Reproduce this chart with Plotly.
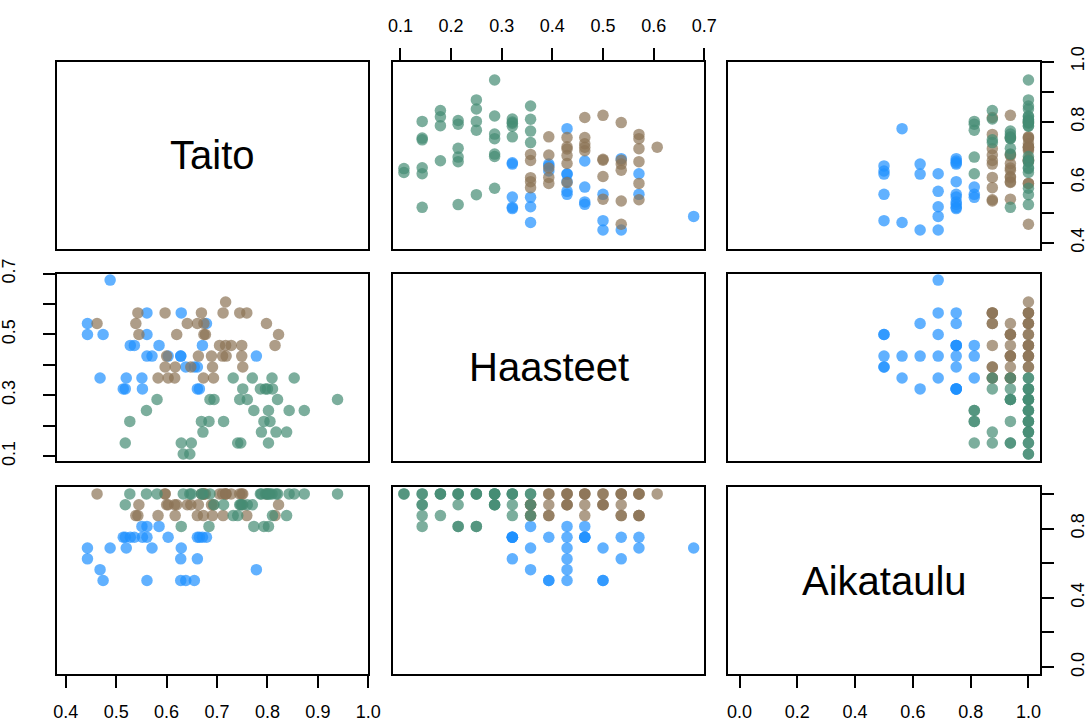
import plotly.graph_objects as go

# ---------------- data ----------------
var_names = ["Taito", "Haasteet", "Aikataulu"]

blue_taito = [0.488, 0.561, 0.629, 0.443, 0.679, 0.443, 0.474, 0.561, 0.528, 0.536,
              0.585, 0.671, 0.778, 0.628, 0.603, 0.628, 0.571, 0.561, 0.638, 0.655,
              0.661, 0.468, 0.520, 0.551, 0.514, 0.518, 0.552, 0.661, 0.665]
blue_haasteet = [0.679, 0.571, 0.571, 0.536, 0.536, 0.500, 0.500, 0.500, 0.464, 0.464,
                 0.464, 0.464, 0.429, 0.429, 0.429, 0.429, 0.429, 0.429, 0.393, 0.393,
                 0.393, 0.357, 0.357, 0.357, 0.321, 0.321, 0.321, 0.321, 0.321]
blue_aikataulu = [0.6875, 0.75, 0.6875, 0.625, 0.75, 0.6875, 0.5, 0.5, 0.75, 0.75,
                  0.8125, 0.75, 0.5625, 0.625, 0.75, 0.5, 0.6875, 0.8125, 0.5, 0.5,
                  0.75, 0.5625, 0.6875, 0.8125, 0.75, 0.75, 0.75, 0.625, 0.75]

brown_taito = [0.717, 0.543, 0.597, 0.669, 0.712, 0.745, 0.759, 0.462, 0.539, 0.641,
               0.661, 0.674, 0.798, 0.545, 0.620, 0.674, 0.677, 0.822, 0.705, 0.717,
               0.728, 0.749, 0.815, 0.600, 0.663, 0.689, 0.711, 0.718, 0.749, 0.597,
               0.617, 0.648, 0.691, 0.751, 0.583, 0.603, 0.616, 0.673, 0.693]
brown_haasteet = [0.607, 0.571, 0.571, 0.571, 0.571, 0.571, 0.571, 0.536, 0.536, 0.536,
                  0.536, 0.536, 0.536, 0.500, 0.500, 0.500, 0.500, 0.500, 0.464, 0.464,
                  0.464, 0.464, 0.464, 0.429, 0.429, 0.429, 0.429, 0.429, 0.429, 0.393,
                  0.393, 0.393, 0.393, 0.393, 0.357, 0.357, 0.357, 0.357, 0.357]
brown_aikataulu = [1.0, 0.875, 1.0, 1.0, 0.875, 1.0, 0.875, 1.0, 0.875, 0.9375,
                   0.875, 1.0, 1.0, 0.9375, 0.9375, 1.0, 1.0, 0.9375, 1.0, 1.0,
                   1.0, 0.9375, 0.875, 0.9375, 0.9375, 0.9375, 1.0, 1.0, 1.0, 1.0,
                   0.875, 0.9375, 0.875, 1.0, 0.875, 0.9375, 0.9375, 0.875, 0.9375]

green_taito = [0.732, 0.770, 0.809, 0.853, 0.751, 0.786, 0.796, 0.800, 0.810, 0.581,
               0.686, 0.694, 0.745, 0.760, 0.820, 0.939, 0.560, 0.773, 0.802, 0.843,
               0.873, 0.527, 0.669, 0.684, 0.713, 0.793, 0.805, 0.672, 0.788, 0.817,
               0.838, 0.518, 0.629, 0.649, 0.741, 0.747, 0.802, 0.633, 0.646]
green_haasteet = [0.357, 0.357, 0.357, 0.357, 0.321, 0.321, 0.321, 0.321, 0.321, 0.286,
                  0.286, 0.286, 0.286, 0.286, 0.286, 0.286, 0.250, 0.250, 0.250, 0.250,
                  0.250, 0.214, 0.214, 0.214, 0.214, 0.214, 0.214, 0.179, 0.179, 0.179,
                  0.179, 0.143, 0.143, 0.143, 0.143, 0.143, 0.143, 0.107, 0.107]
green_aikataulu = [0.875, 0.9375, 1.0, 1.0, 0.9375, 1.0, 1.0, 1.0, 0.875, 1.0,
                   1.0, 0.9375, 0.9375, 0.9375, 1.0, 1.0, 1.0, 0.8125, 0.8125, 1.0,
                   1.0, 1.0, 1.0, 0.8125, 0.9375, 0.8125, 1.0, 1.0, 1.0, 1.0,
                   0.875, 0.9375, 0.8125, 1.0, 0.875, 0.9375, 1.0, 1.0, 1.0]

groups = [
    ([blue_taito, blue_haasteet, blue_aikataulu], "rgba(30,144,255,0.7)"),
    ([brown_taito, brown_haasteet, brown_aikataulu], "rgba(139,115,85,0.7)"),
    ([green_taito, green_haasteet, green_aikataulu], "rgba(69,139,116,0.7)"),
]

# ---------------- layout geometry ----------------
W, H = 1088, 722
col_px = [(56.7, 368.3), (392.7, 704.3), (728.0, 1040.0)]
row_px = [(61.5, 248.5), (273.7, 460.7), (487.0, 674.0)]
var_ranges = [[0.382, 1.0], [0.0848, 0.70], [-0.04, 1.04]]

taito_ticks = [0.4, 0.5, 0.6, 0.7, 0.8, 0.9, 1.0]
haast_ticks = [0.1, 0.2, 0.3, 0.4, 0.5, 0.6, 0.7]
aika_ticks = [0.0, 0.2, 0.4, 0.6, 0.8, 1.0]

FONT = "Liberation Sans, Arial, Helvetica, sans-serif"
tick_font = dict(family=FONT, size=18, color="black")

fig = go.Figure()
layout = dict(width=W, height=H, margin=dict(l=0, r=0, t=0, b=0, pad=0),
              paper_bgcolor="white", plot_bgcolor="white", showlegend=False,
              annotations=[])


def fmt(v):
    return f"{v:.1f}"


def tick_spec(side, vals, labels, angle=0, standoff=10):
    return dict(side=side, ticks="outside", ticklen=12, tickwidth=1.5,
                tickcolor="black", tickvals=vals, ticktext=labels,
                showticklabels=True, tickfont=tick_font, tickangle=angle,
                ticklabelstandoff=standoff)


for i in range(3):
    for j in range(3):
        n = i * 3 + j + 1
        xname = "xaxis" if n == 1 else f"xaxis{n}"
        yname = "yaxis" if n == 1 else f"yaxis{n}"
        xref = "x" if n == 1 else f"x{n}"
        yref = "y" if n == 1 else f"y{n}"
        x0, x1 = col_px[j]
        y0, y1 = row_px[i]
        base = dict(showgrid=False, zeroline=False, showline=True, mirror=True,
                    linecolor="black", linewidth=1.5, ticks="", automargin=False,
                    showticklabels=False, fixedrange=True)
        xa = dict(base, domain=[x0 / W, x1 / W], range=var_ranges[j], anchor=yref)
        ya = dict(base, domain=[1 - y1 / H, 1 - y0 / H], range=var_ranges[i], anchor=xref)

        if (i, j) == (0, 1):
            xa.update(tick_spec("top", haast_ticks, [fmt(v) for v in haast_ticks],
                                standoff=9))
        if (i, j) == (0, 2):
            ya.update(tick_spec("right", taito_ticks,
                                [fmt(v) if k % 2 == 0 else "" for k, v in enumerate(taito_ticks)],
                                -90, standoff=9))
        if (i, j) == (1, 0):
            ya.update(tick_spec("left", haast_ticks,
                                [fmt(v) if k % 2 == 0 else "" for k, v in enumerate(haast_ticks)],
                                -90, standoff=21))
        if (i, j) == (2, 0):
            xa.update(tick_spec("bottom", taito_ticks, [fmt(v) for v in taito_ticks],
                                standoff=9))
        if (i, j) == (2, 2):
            xa.update(tick_spec("bottom", aika_ticks, [fmt(v) for v in aika_ticks],
                                standoff=9))
            ya.update(tick_spec("right", aika_ticks,
                                [fmt(v) if k % 2 == 0 else "" for k, v in enumerate(aika_ticks)],
                                -90, standoff=9))

        layout[xname] = xa
        layout[yname] = ya

        if i == j:
            fig.add_trace(go.Scatter(x=[None], y=[None], mode="markers",
                                     xaxis=xref, yaxis=yref, hoverinfo="skip"))
            layout["annotations"].append(dict(
                x=sum(var_ranges[j]) / 2, y=sum(var_ranges[i]) / 2,
                xref=xref, yref=yref, text=var_names[i], showarrow=False,
                font=dict(family=FONT, size=40, color="black"),
                xanchor="center", yanchor="middle"))
        else:
            for vals, color in groups:
                fig.add_trace(go.Scatter(
                    x=vals[j], y=vals[i], mode="markers",
                    xaxis=xref, yaxis=yref, hoverinfo="skip",
                    marker=dict(size=11.5, color=color, line=dict(width=0))))

fig.update_layout(**layout)
fig.write_html("out.html", config={"displayModeBar": False},
               post_script="document.body.style.margin='0';document.body.style.padding='0';")
